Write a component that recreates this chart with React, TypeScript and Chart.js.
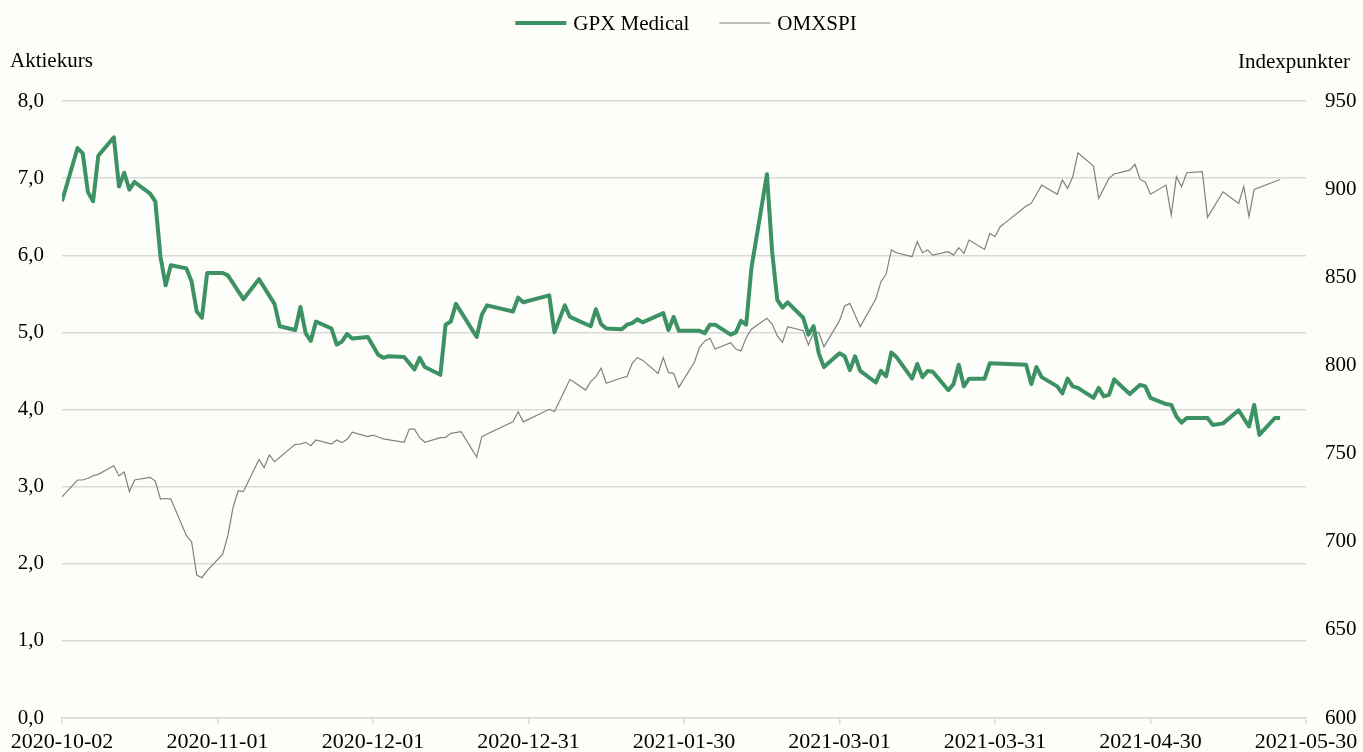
import React, { useEffect, useRef } from "react";
import Chart from "chart.js/auto";

const xTickLabels = [
  "2020-10-02", "2020-11-01", "2020-12-01", "2020-12-31", "2021-01-30",
  "2021-03-01", "2021-03-31", "2021-04-30", "2021-05-30",
];

const leftTitle = "Aktiekurs";
const rightTitle = "Indexpunkter";

// day offsets from 2020-10-02
const gpxDays = [0,3,4,5,6,7,10,11,12,13,14,17,18,19,20,21,24,25,26,27,28,31,32,35,38,41,42,45,46,47,48,49,52,53,54,55,56,59,61,62,63,66,68,69,70,73,74,75,76,80,81,82,87,88,89,94,95,97,98,102,103,104,105,108,109,110,111,112,116,117,118,119,123,124,125,126,129,130,131,132,133,136,137,138,139,140,143,144,145,146,147,150,151,152,153,154,157,158,159,160,161,164,165,166,167,168,171,172,173,174,175,178,179,186,187,188,189,192,193,194,195,196,199,200,201,202,203,206,208,209,210,213,214,215,216,217,221,222,224,227,229,230,231,234,235];
const gpxValues = [6.70,7.39,7.32,6.82,6.70,7.29,7.53,6.89,7.07,6.85,6.95,6.80,6.70,5.98,5.61,5.87,5.83,5.66,5.27,5.19,5.77,5.77,5.74,5.43,5.69,5.37,5.08,5.03,5.33,4.99,4.89,5.14,5.05,4.84,4.88,4.98,4.92,4.94,4.71,4.67,4.69,4.68,4.52,4.67,4.55,4.45,5.10,5.14,5.37,4.94,5.23,5.35,5.27,5.45,5.39,5.48,5.00,5.35,5.20,5.08,5.30,5.11,5.05,5.04,5.10,5.12,5.17,5.13,5.25,5.03,5.20,5.02,5.02,4.99,5.10,5.10,4.97,5.00,5.15,5.10,5.83,7.05,6.05,5.42,5.32,5.39,5.19,4.97,5.08,4.73,4.55,4.73,4.69,4.51,4.69,4.50,4.35,4.50,4.43,4.74,4.68,4.40,4.59,4.42,4.50,4.49,4.25,4.33,4.58,4.30,4.40,4.40,4.60,4.58,4.33,4.55,4.42,4.30,4.21,4.40,4.30,4.28,4.15,4.28,4.17,4.19,4.39,4.20,4.32,4.30,4.15,4.07,4.06,3.91,3.83,3.89,3.89,3.80,3.82,3.99,3.78,4.06,3.67,3.89,3.89];

const omxDays = [0,3,4,5,6,7,10,11,12,13,14,17,18,19,20,21,24,25,26,27,28,31,32,33,34,35,38,39,40,41,45,46,47,48,49,52,53,54,55,56,59,60,62,66,67,68,69,70,73,74,75,77,80,81,82,87,88,89,94,95,98,101,102,103,104,105,108,109,110,111,112,115,116,117,118,119,122,123,124,125,126,129,130,131,132,133,136,137,138,139,140,143,144,145,146,147,150,151,152,153,154,157,158,159,160,161,164,165,166,167,168,171,172,173,174,175,178,179,180,181,182,185,186,187,189,192,193,194,195,196,199,200,202,203,206,207,208,209,210,213,214,215,216,217,220,221,224,227,228,229,230,235];
const omxValues = [725.5,735,735,736,737.4,738.2,743.1,737.3,739.5,728.4,735,736.5,734.4,724.2,724.5,724.2,703.4,700,681.1,679.6,683.6,692.9,703.4,719.5,728.9,728.4,746.7,742,749.2,745.4,755.2,755.4,756.4,754.5,757.7,755.4,757.7,756.2,758.1,762.1,759.6,760.5,758.3,756.4,763.9,763.9,759,756.4,759,759.2,761.5,762.4,748,759.6,761.1,768,773.7,768,775.1,773.7,792.1,786,790.8,793.6,798.4,789.9,793,793.6,801.2,804.4,803,795.5,804.4,795.9,795.5,787.6,801.8,810.3,813.8,815.4,809.3,812.9,809.3,808.2,815.7,820.5,826.7,823.5,816.7,813.1,822,819.7,811.6,818.5,818.8,810.6,825.4,833.7,835.2,828.6,822,837.7,847.5,851.8,865.5,863.9,861.7,870.2,863.9,865.5,862.6,864.5,862.6,866.8,863.5,871.1,865.8,874.9,873,878.7,881,888,890.4,891.9,902.3,897.1,905.2,900.4,907,920.6,913.1,894.8,906.1,908.6,910.8,914.1,905.5,903.9,897.1,902.3,885.3,907,901.4,909.3,909.9,884,898.5,891.9,901.4,884.4,899.8,905.5];

const FONT = "'Liberation Serif', 'Times New Roman', serif";
const BG = "#fdfdf9";
const GREEN = "#3d9263";
const GRAY = "#808080";
const GRID = "#d9d9d9";

const bgPlugin = {
  id: "bg",
  beforeDraw(chart: any) {
    const { ctx, width, height } = chart;
    ctx.save();
    ctx.fillStyle = BG;
    ctx.fillRect(0, 0, width, height);
    ctx.restore();
  },
};

const overlayPlugin = {
  id: "overlay",
  afterDraw(chart: any) {
    const { ctx } = chart;
    ctx.save();
    ctx.fillStyle = "#000";
    ctx.font = `21px ${FONT}`;
    ctx.textBaseline = "alphabetic";
    ctx.textAlign = "left";
    ctx.fillText(leftTitle, 10, 67);
    ctx.textAlign = "right";
    ctx.fillText(rightTitle, 1350, 68);

    // legend
    const items = chart.data.datasets.map((d: any, i: number) => ({
      text: d.label,
      color: i === 0 ? d.borderColor : "#a6a6a6",
      width: i === 0 ? 4 : 1.5,
    }));
    const sample = 51;
    const gapText = 7;
    const gapItem = 30;
    const widths = items.map((it: any) => sample + gapText + ctx.measureText(it.text).width);
    const total = widths.reduce((a: number, b: number) => a + b, 0) + gapItem * (items.length - 1);
    let x = 686 - total / 2;
    const y = 23;
    ctx.textAlign = "left";
    ctx.textBaseline = "middle";
    items.forEach((it: any, i: number) => {
      ctx.beginPath();
      ctx.strokeStyle = it.color;
      ctx.lineWidth = it.width;
      ctx.moveTo(x, y);
      ctx.lineTo(x + sample, y);
      ctx.stroke();
      ctx.fillStyle = "#000";
      ctx.fillText(it.text, x + sample + gapText, y + 1);
      x += widths[i] + gapItem;
    });
    ctx.restore();
  },
};

export default function App() {
  const ref = useRef<HTMLCanvasElement | null>(null);

  useEffect(() => {
    document.body.style.margin = "0";
    document.body.style.background = BG;
    if (!ref.current) return;
    const chart = new Chart(ref.current, {
      type: "line",
      data: {
        datasets: [
          {
            label: "GPX Medical",
            data: gpxDays.map((d, i) => ({ x: d, y: gpxValues[i] })),
            borderColor: GREEN,
            backgroundColor: GREEN,
            borderWidth: 4,
            pointRadius: 0,
            tension: 0,
            borderJoinStyle: "round",
            yAxisID: "y",
          },
          {
            label: "OMXSPI",
            data: omxDays.map((d, i) => ({ x: d, y: omxValues[i] })),
            borderColor: GRAY,
            backgroundColor: GRAY,
            borderWidth: 1.2,
            pointRadius: 0,
            tension: 0,
            yAxisID: "y2",
          },
        ],
      },
      options: {
        animation: false,
        responsive: true,
        maintainAspectRatio: false,
        layout: { padding: { top: 101, left: 0, right: 0, bottom: 0 } },
        plugins: {
          legend: { display: false },
          tooltip: { enabled: false },
          title: { display: false },
        },
        scales: {
          x: {
            type: "linear",
            min: 0,
            max: 240,
            afterFit: (s: any) => { s.height = 34; },
            afterBuildTicks: (s: any) => {
              s.ticks = xTickLabels.map((_, i) => ({ value: i * 30 }));
            },
            ticks: {
              autoSkip: false,
              maxRotation: 0,
              minRotation: 0,
              padding: 5,
              color: "#000",
              font: { family: FONT, size: 22 },
              callback: (_v: any, i: number) => xTickLabels[i],
            },
            grid: {
              drawOnChartArea: false,
              drawTicks: true,
              tickLength: 6,
              color: GRID,
              lineWidth: 1.5,
            },
            border: { display: true, color: GRID, width: 1.5 },
          },
          y: {
            position: "left",
            min: 0,
            max: 8,
            afterFit: (s: any) => { s.width = 62; },
            ticks: {
              stepSize: 1,
              padding: 18,
              color: "#000",
              font: { family: FONT, size: 21 },
              callback: (v: any) => Number(v).toFixed(1).replace(".", ","),
            },
            grid: { color: GRID, lineWidth: 1.5, drawTicks: false },
            border: { display: false },
          },
          y2: {
            position: "right",
            min: 600,
            max: 950,
            afterFit: (s: any) => { s.width = 57; },
            ticks: {
              stepSize: 50,
              padding: 19,
              color: "#000",
              font: { family: FONT, size: 21 },
            },
            grid: { display: false, drawOnChartArea: false, drawTicks: false },
            border: { display: false },
          },
        },
      },
      plugins: [bgPlugin, overlayPlugin],
    });
    return () => chart.destroy();
  }, []);

  return (
    <div style={{ width: 1363, height: 752, position: "relative" }}>
      <canvas ref={ref} />
    </div>
  );
}
